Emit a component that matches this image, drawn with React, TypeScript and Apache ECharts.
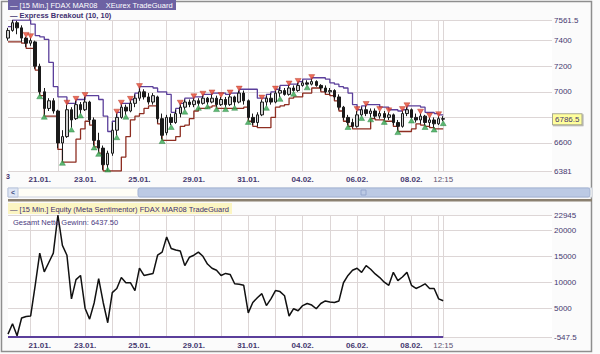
import React, { useEffect, useRef } from 'react';
import * as echarts from 'echarts';

// ---------- data ----------
const categoryCount = 121;
const dateLabels = ['21.01.', '23.01.', '25.01.', '29.01.', '31.01.', '04.02.', '06.02.', '08.02.', '12:15'];
const dateLabelIndex = [7, 17, 29, 41, 53, 65, 77, 89, 96];

const open = [
  7420, 7480, 7540, 7500, 7420, 7380, 7390, 7200, 7000, 6870,
  6930, 6850, 6600, 6650, 6860, 6790, 6900, 6860, 6920, 6780,
  6620, 6560, 6430, 6520, 6700, 6800, 6880, 6850, 6910, 6950,
  7000, 6960, 6920, 6960, 6790, 6680, 6800, 6760, 6830, 6880,
  6920, 6900, 6930, 6910, 6950, 6920, 6950, 6900, 6940, 6900,
  6960, 6920, 6990, 6930, 6800, 6760, 6820, 6920, 6950, 6920,
  6990, 7010, 6980, 7030, 7010, 7050, 7070, 7060, 7080, 7050,
  7030, 7000, 7010, 6960, 6880, 6800, 6760, 6730, 6820, 6860,
  6830, 6850, 6810, 6830, 6800, 6820, 6760, 6730, 6830, 6860,
  6800, 6780, 6810, 6760, 6780, 6750, 6790,
];
const close = [
  7480, 7540, 7500, 7420, 7380, 7400, 7200, 7000, 6870, 6930,
  6850, 6600, 6650, 6860, 6780, 6900, 6860, 6920, 6780, 6620,
  6560, 6430, 6520, 6700, 6800, 6880, 6850, 6910, 6950, 7000,
  6960, 6920, 6970, 6790, 6660, 6800, 6760, 6830, 6880, 6920,
  6900, 6930, 6910, 6950, 6920, 6950, 6900, 6940, 6900, 6960,
  6920, 6990, 6930, 6800, 6760, 6820, 6920, 6950, 6920, 6990,
  7010, 6980, 7030, 7010, 7050, 7070, 7060, 7080, 7050, 7030,
  7000, 7010, 6960, 6880, 6800, 6760, 6730, 6820, 6860, 6830,
  6850, 6810, 6830, 6800, 6820, 6760, 6730, 6830, 6860, 6800,
  6780, 6810, 6760, 6780, 6750, 6790, 6786.5,
];
const low = [
  7400, 7470, 7450, 7390, 7350, 7360, 7180, 6980, 6820, 6850,
  6830, 6560, 6460, 6640, 6720, 6780, 6830, 6850, 6750, 6580,
  6530, 6390, 6381, 6500, 6660, 6790, 6820, 6840, 6880, 6930,
  6940, 6900, 6900, 6760, 6630, 6660, 6740, 6750, 6800, 6860,
  6880, 6880, 6890, 6900, 6900, 6910, 6880, 6890, 6880, 6890,
  6890, 6910, 6900, 6780, 6740, 6730, 6810, 6890, 6900, 6910,
  6960, 6970, 6970, 7000, 7000, 7040, 7050, 7050, 7040, 7010,
  6990, 6980, 6940, 6860, 6780, 6740, 6720, 6720, 6810, 6810,
  6800, 6790, 6790, 6780, 6780, 6740, 6700, 6720, 6810, 6790,
  6760, 6750, 6740, 6730, 6720, 6740, 6770,
];
const high = [
  7500, 7561, 7555, 7520, 7430, 7420, 7400, 7220, 7030, 6950,
  6950, 6860, 6700, 6900, 6880, 6930, 6920, 6960, 6930, 6800,
  6680, 6580, 6540, 6760, 6830, 6900, 6900, 6930, 6980, 7030,
  7020, 6990, 6990, 6970, 6830, 6820, 6830, 6860, 6900, 6940,
  6940, 6950, 6950, 6970, 6960, 6980, 6970, 6960, 6960, 6980,
  6970, 7010, 7010, 6940, 6830, 6840, 6940, 6970, 6990, 7010,
  7040, 7030, 7050, 7050, 7070, 7090, 7090, 7100, 7090, 7060,
  7050, 7030, 7020, 6980, 6890, 6820, 6790, 6850, 6880, 6890,
  6870, 6870, 6850, 6850, 6840, 6830, 6780, 6850, 6880, 6870,
  6830, 6830, 6820, 6800, 6800, 6810, 6810,
];
const upperBand = [
  7510, 7561, 7561, 7561, 7561, 7530, 7440, 7430, 7410, 7230,
  7040, 6960, 6960, 6910, 6910, 6940, 6940, 6970, 6970, 6970,
  6940, 6810, 6690, 6770, 6840, 6910, 6910, 6940, 6990, 7040,
  7040, 7040, 7030, 7000, 7000, 6980, 6840, 6870, 6910, 6950,
  6950, 6960, 6960, 6980, 6980, 6990, 6990, 6990, 6980, 6990,
  6990, 7020, 7020, 7020, 7020, 6950, 6950, 6980, 7000, 7020,
  7050, 7050, 7060, 7060, 7080, 7100, 7100, 7110, 7110, 7110,
  7100, 7070, 7060, 7040, 7030, 6990, 6900, 6860, 6890, 6900,
  6900, 6900, 6880, 6880, 6860, 6860, 6850, 6860, 6890, 6890,
  6890, 6880, 6840, 6840, 6830, 6820, 6820,
];
const lowerBand = [
  7390, 7390, 7390, 7380, 7340, 7340, 7170, 6970, 6810, 6810,
  6810, 6550, 6450, 6450, 6450, 6630, 6710, 6770, 6740, 6570,
  6520, 6381, 6381, 6381, 6381, 6490, 6650, 6780, 6810, 6830,
  6870, 6890, 6890, 6750, 6620, 6620, 6620, 6650, 6730, 6740,
  6790, 6850, 6870, 6870, 6880, 6890, 6870, 6870, 6870, 6870,
  6870, 6870, 6880, 6770, 6730, 6720, 6720, 6720, 6800, 6880,
  6890, 6900, 6950, 6960, 6960, 6990, 6990, 7030, 7030, 7000,
  6980, 6970, 6930, 6850, 6770, 6730, 6710, 6710, 6710, 6710,
  6790, 6780, 6780, 6770, 6770, 6730, 6690, 6690, 6690, 6710,
  6750, 6740, 6730, 6720, 6710, 6710, 6710,
];
const sellSignals = [
  [4, 7445], [5, 7435], [13, 6915], [15, 6945], [17, 6975], [24, 6845], [25, 6915],
  [27, 6945], [29, 7045], [38, 6915], [41, 6965], [43, 6985], [45, 6995], [47, 6975],
  [49, 6995], [51, 7025], [56, 6955], [59, 7025], [62, 7065], [64, 7085], [67, 7115],
  [77, 6865], [79, 6905], [82, 6865], [84, 6855], [87, 6865], [88, 6895], [91, 6845],
  [93, 6815], [95, 6825],
];
const buySignals = [
  [7, 6965], [8, 6805], [12, 6445], [14, 6705], [16, 6815], [19, 6565], [20, 6515],
  [22, 6392], [24, 6645], [26, 6805], [34, 6615], [36, 6725], [39, 6845], [42, 6875],
  [44, 6885], [46, 6865], [48, 6865], [50, 6875], [53, 6765], [57, 6875], [60, 6945],
  [63, 6985], [66, 7035], [75, 6725], [78, 6795], [80, 6785], [83, 6765], [86, 6685],
  [89, 6775], [92, 6725], [94, 6705], [96, 6755],
];
const equity = [
  0, 2000, -300, 3100, 3400, 3500, 9400, 15600, 12000, 13800,
  15600, 22900, 17100, 15200, 6800, 10500, 11300, 5000, 2900, 6000,
  10700, 6100, 2200, 8000, 8800, 10900, 9900, 9900, 8400, 12700,
  11300, 11500, 11700, 15200, 15800, 18700, 16500, 16200, 16000, 13200,
  14800, 15200, 15800, 15000, 13500, 12700, 12300, 11300, 11700, 11500,
  9700, 9600, 9400, 4100, 6100, 7000, 7800, 5500, 6800, 8400,
  8200, 7400, 3500, 4900, 4500, 5500, 5900, 5600, 4900, 5900,
  6400, 6200, 6100, 6400, 9900, 11300, 12300, 12700, 11900, 13200,
  12500, 11600, 10900, 10000, 9400, 11900, 10300, 11000, 11900, 9400,
  8800, 9200, 9700, 8800, 8800, 6800, 6437.5,
];
const priceTicks = [6381, 6600, 6800, 7000, 7200, 7400, 7561.5];
const hiddenPriceLabels = [6800];
const lastPrice = 6786.5;
const equityTicks = [-547.5, 5000, 10000, 15000, 20000, 22945];
const netProfit = '6437.50';

// ---------- chart ----------
const FONT = 'Liberation Sans, Arial, sans-serif';
const LABEL_COLOR = '#45386f';
const GRID_COLOR = '#ddd6d6';

const categories = Array.from({ length: categoryCount }, (_, i) => {
  const k = dateLabelIndex.indexOf(i);
  return k >= 0 ? dateLabels[k] : '';
});
const candleData = open.map((o, i) => [o, close[i], low[i], high[i]]);
const lastIndex = open.length - 1;

const splitInterval = (index: number) =>
  index === lastIndex || (index >= 5 && index < lastIndex && (index - 5) % 6 === 0);

function makeXAxis(gridIndex: number) {
  return {
    type: 'category',
    gridIndex,
    data: categories,
    boundaryGap: false,
    axisLine: { show: false },
    axisTick: { show: false },
    axisLabel: {
      interval: (_i: number, v: string) => v !== '',
      margin: 4,
      fontFamily: FONT,
      formatter: (v: string) => (v === '12:15' ? '{t|' + v + '}' : '{d|' + v + '}'),
      rich: {
        d: { fontSize: 8, fontWeight: 'bold', color: LABEL_COLOR, fontFamily: FONT },
        t: { fontSize: 8, color: '#5b5270', fontFamily: FONT },
      },
    },
    splitLine: { show: true, interval: splitInterval, lineStyle: { color: GRID_COLOR, width: 1 } },
  };
}

function makeYAxis(gridIndex: number, min: number, max: number, ticks: number[], hidden: number[]) {
  return {
    type: 'value',
    gridIndex,
    position: 'right',
    min,
    max,
    axisLine: { show: false },
    axisTick: { show: false, customValues: ticks },
    axisLabel: {
      customValues: ticks,
      margin: 2,
      fontSize: 8,
      color: LABEL_COLOR,
      fontFamily: FONT,
      formatter: (v: number) => (hidden.indexOf(v) >= 0 ? '' : String(v)),
    },
    splitLine: { show: true, lineStyle: { color: GRID_COLOR, width: 1 } },
  };
}

export default function App() {
  const ref = useRef<HTMLDivElement>(null);
  useEffect(() => {
    if (!ref.current) return;
    const chart = echarts.init(ref.current, undefined, { renderer: 'svg' });
    const option: any = {
      animation: false,
      backgroundColor: '#fbfbfb',
      textStyle: { fontFamily: FONT },
      grid: [
        { left: 8, right: 48, top: 20, height: 151, show: true, backgroundColor: '#ffffff', borderWidth: 0, outerBoundsMode: 'none' },
        { left: 8, right: 48, top: 215, height: 122, show: true, backgroundColor: '#ffffff', borderWidth: 0, outerBoundsMode: 'none' },
      ],
      xAxis: [makeXAxis(0), makeXAxis(1)],
      yAxis: [
        makeYAxis(0, 6381, 7561.5, priceTicks, hiddenPriceLabels),
        makeYAxis(1, -547.5, 22945, equityTicks, []),
      ],
      series: [
        {
          type: 'line',
          name: 'upper',
          xAxisIndex: 0,
          yAxisIndex: 0,
          data: upperBand,
          step: 'end',
          symbol: 'none',
          lineStyle: { color: '#5b3f9b', width: 1.3 },
          z: 2,
        },
        {
          type: 'line',
          name: 'lower',
          xAxisIndex: 0,
          yAxisIndex: 0,
          data: lowerBand,
          step: 'end',
          symbol: 'none',
          lineStyle: { color: '#8e2e22', width: 1.3 },
          z: 2,
        },
        {
          type: 'candlestick',
          xAxisIndex: 0,
          yAxisIndex: 0,
          data: candleData,
          barWidth: 3,
          itemStyle: {
            color: '#cfcfcf',
            color0: '#1a1a1a',
            borderColor: '#1a1a1a',
            borderColor0: '#1a1a1a',
            borderWidth: 1,
          },
          z: 3,
          markLine: {
            silent: true,
            symbol: 'none',
            lineStyle: { color: 'rgba(0,0,0,0)', width: 0 },
            data: [{ yAxis: lastPrice }],
            label: {
              show: true,
              position: 'end',
              distance: 1,
              formatter: String(lastPrice),
              fontSize: 8,
              color: LABEL_COLOR,
              fontFamily: FONT,
              backgroundColor: '#ffff9c',
              borderColor: '#a8a890',
              borderWidth: 1,
              padding: [1, 2],
              shadowColor: 'rgba(0,0,0,0.35)',
              shadowOffsetX: 1,
              shadowOffsetY: 1,
              shadowBlur: 1,
            },
          },
        },
        {
          type: 'scatter',
          xAxisIndex: 0,
          yAxisIndex: 0,
          data: sellSignals,
          symbol: 'triangle',
          symbolRotate: 180,
          symbolSize: [6, 5],
          itemStyle: { color: '#e84a33', borderColor: '#b02a1a', borderWidth: 0.5 },
          z: 4,
        },
        {
          type: 'scatter',
          xAxisIndex: 0,
          yAxisIndex: 0,
          data: buySignals,
          symbol: 'triangle',
          symbolSize: [6, 5],
          itemStyle: { color: '#36a852', borderColor: '#1f7a35', borderWidth: 0.5 },
          z: 4,
        },
        {
          type: 'line',
          name: 'equity',
          xAxisIndex: 1,
          yAxisIndex: 1,
          data: equity,
          symbol: 'none',
          lineStyle: { color: '#111111', width: 1.5 },
          z: 3,
          markLine: {
            silent: true,
            symbol: 'none',
            label: { show: false },
            lineStyle: { color: '#5b3f9b', width: 2, type: 'solid' },
            data: [[{ xAxis: 0, yAxis: -547.5 }, { xAxis: lastIndex, yAxis: -547.5 }]],
          },
        },
      ],
      graphic: [
        { type: 'rect', silent: true, shape: { x: 1.5, y: 1.5, width: 590, height: 350 }, style: { fill: 'none', stroke: '#8e8e8e', lineWidth: 1.5 }, z: 100 },
        { type: 'rect', silent: true, shape: { x: 8, y: 0, width: 168, height: 10 }, style: { fill: '#6d62a3' }, z: 101 },
        { type: 'text', silent: true, x: 10, y: 1.5, style: { text: '— [15 Min.] FDAX MAR08    XEurex TradeGuard', fill: '#ffffff', font: '7.5px ' + FONT }, z: 102 },
        { type: 'text', silent: true, x: 10, y: 11, style: { text: '— Express Breakout (10, 10)', fill: '#3f3070', font: 'bold 7.5px ' + FONT }, z: 102 },
        { type: 'text', silent: true, x: 6, y: 173, style: { text: '3', fill: '#3f3070', font: 'bold 7px ' + FONT }, z: 102 },
        // scrollbar
        { type: 'rect', silent: true, shape: { x: 8, y: 188, width: 584, height: 9 }, style: { fill: '#fffef6', stroke: '#cdd3e0', lineWidth: 1 }, z: 101 },
        { type: 'rect', silent: true, shape: { x: 8, y: 188, width: 10, height: 9 }, style: { fill: '#dfe6f4', stroke: '#b8c4dc', lineWidth: 1 }, z: 102 },
        { type: 'text', silent: true, x: 11, y: 188.5, style: { text: '<', fill: '#3f4f80', font: 'bold 7px ' + FONT }, z: 103 },
        { type: 'rect', silent: true, shape: { x: 138, y: 188, width: 452, height: 9, r: 2 }, style: { fill: '#bccae4', stroke: '#a3b3d3', lineWidth: 1 }, z: 102 },
        { type: 'rect', silent: true, shape: { x: 361, y: 190, width: 5, height: 5 }, style: { fill: 'none', stroke: '#8d9fc6', lineWidth: 0.8 }, z: 103 },
        // separator
        { type: 'rect', silent: true, shape: { x: 8, y: 199, width: 584, height: 2.5 }, style: { fill: '#8a8070' }, z: 101 },
        // lower panel header
        { type: 'rect', silent: true, shape: { x: 8, y: 203, width: 224, height: 11 }, style: { fill: '#fbf5c2' }, z: 101 },
        { type: 'text', silent: true, x: 10, y: 205, style: { text: '— [15 Min.] Equity (Meta Sentimentor) FDAX MAR08 TradeGuard', fill: '#3f3070', font: '7.5px ' + FONT }, z: 102 },
        { type: 'text', silent: true, x: 13, y: 218.5, style: { text: 'Gesamt Netto Gewinn: ' + netProfit, fill: '#4a3a80', font: '7.5px ' + FONT }, z: 102 },
      ],
    };
    chart.setOption(option);
    return () => chart.dispose();
  }, []);
  return <div ref={ref} style={{ position: 'absolute', left: 0, top: 0, width: 600, height: 354 }} />;
}
